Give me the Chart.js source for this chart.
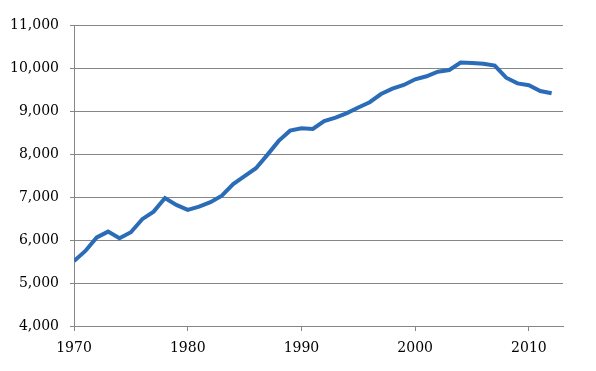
<!DOCTYPE html>
<html>
<head>
<meta charset="utf-8">
<script src="https://cdn.jsdelivr.net/npm/chart.js@4"></script>
<style>
html,body{margin:0;padding:0;background:#fff;}
#wrap{width:596px;height:371px;}
</style>
</head>
<body>
<div id="wrap"><canvas id="c" width="596" height="371"></canvas></div>
<script>
const years = [1970,1971,1972,1973,1974,1975,1976,1977,1978,1979,1980,1981,1982,1983,1984,1985,1986,1987,1988,1989,1990,1991,1992,1993,1994,1995,1996,1997,1998,1999,2000,2001,2002,2003,2004,2005,2006,2007,2008,2009,2010,2011,2012];
const values = [5510,5745,6060,6195,6040,6180,6485,6660,6975,6815,6700,6775,6880,7030,7300,7485,7670,7980,8305,8543,8600,8582,8765,8845,8950,9080,9205,9395,9520,9605,9737,9808,9915,9953,10125,10117,10100,10055,9775,9643,9598,9465,9412];
const xTicks = [1970,1980,1990,2000,2010];
const yMin = 4000, yMax = 11000, yStep = 1000;

const pts = years.map((y,i)=>({x:y,y:values[i]}));
const grey = '#868686';
const font = {family:'"DejaVu Serif"', size:14};

new Chart(document.getElementById('c'), {
  type:'line',
  data:{datasets:[{data:pts,borderColor:'#2b6cb8',borderWidth:4,pointRadius:0,tension:0,fill:false}]},
  options:{
    responsive:false,animation:false,
    layout:{padding:{left:0,right:33,top:25,bottom:0}},
    plugins:{legend:{display:false},tooltip:{enabled:false}},
    scales:{
      x:{type:'linear',min:1970,max:2013,
        afterBuildTicks:s=>{s.ticks=xTicks.map(v=>({value:v}));},
        afterFit:s=>{s.height=45;},
        ticks:{includeBounds:false,color:'#000',font:font,padding:9,maxRotation:0,callback:v=>String(v)},
        grid:{drawOnChartArea:false,drawTicks:true,tickLength:5,color:grey,lineWidth:1},
        border:{color:grey,width:1}
      },
      y:{min:yMin,max:yMax,
        afterFit:s=>{s.width=74;},
        ticks:{stepSize:yStep,color:'#000',font:font,padding:11,callback:v=>v.toLocaleString('en-US')},
        grid:{drawOnChartArea:true,drawTicks:true,tickLength:4,color:grey,lineWidth:1},
        border:{color:grey,width:1}
      }
    }
  }
});
</script>
</body>
</html>
